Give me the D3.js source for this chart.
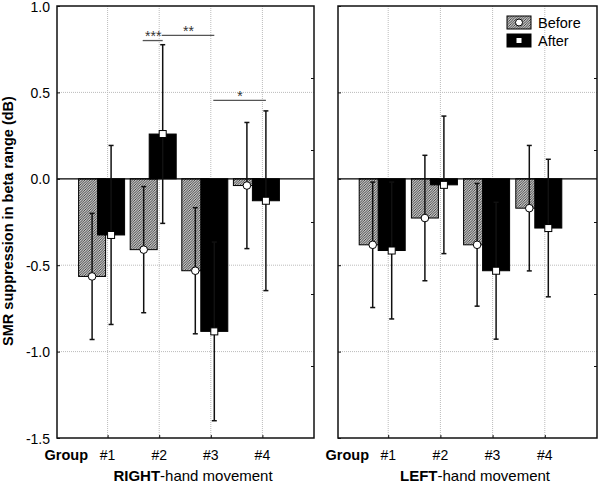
<!DOCTYPE html>
<html><head><meta charset="utf-8">
<script src="https://cdn.jsdelivr.net/npm/d3@7"></script>
<style>
body{margin:0;background:#fff;}
svg{display:block;font-family:"Liberation Sans",Arial,sans-serif;}
</style></head>
<body><svg id="c" width="600" height="483"></svg>
<script>
const categories = ["#1","#2","#3","#4"];
const seriesNames = ["Before","After"];
const rightBefore   = [-0.565, -0.410, -0.532, -0.039];
const rightBeforeSD = [0.365, 0.365, 0.365, 0.365];
const rightAfter    = [-0.325, 0.259, -0.883, -0.127];
const rightAfterSD  = [0.518, 0.517, 0.517, 0.520];
const leftBefore    = [-0.382, -0.227, -0.382, -0.170];
const leftBeforeSD  = [0.363, 0.363, 0.355, 0.363];
const leftAfter     = [-0.415, -0.035, -0.532, -0.285];
const leftAfterSD   = [0.396, 0.398, 0.396, 0.398];
const yTicks = [1.0, 0.5, 0.0, -0.5, -1.0, -1.5];
const panelTitles = [["RIGHT","-hand movement"],["LEFT","-hand movement"]];
const sigLabels = ["***","**","*"];
const sigFrom   = [["Before","#2"],["After","#2"],["After","#3"]];
const sigTo     = [["After","#2"],["After","#3"],["After","#4"]];
const sigLevel  = [0.80, 0.83, 0.454];

const svg = d3.select("#c");
const defs = svg.append("defs");
const pat = defs.append("pattern").attr("id","hatch").attr("patternUnits","userSpaceOnUse")
  .attr("width",2.5).attr("height",2.5);
pat.append("rect").attr("width",2.5).attr("height",2.5).attr("fill","#c4c4c4");
pat.append("path").attr("d","M-1,1 l2,-2 M0,2.5 l2.5,-2.5 M1.5,3.5 l2,-2").attr("stroke","#2a2a2a").attr("stroke-width",0.8);

const y = d3.scaleLinear().domain([-1.5,1]).range([438,6]);
const ySec = d3.scaleLinear().domain([0,6]).range([438,6]);
const panels = [
  {range:[56,314], spineX:57, before:rightBefore, bSD:rightBeforeSD, after:rightAfter, aSD:rightAfterSD, title:panelTitles[0], labels:true, sig:true},
  {range:[336,597], spineX:338, before:leftBefore, bSD:leftBeforeSD, after:leftAfter, aSD:leftAfterSD, title:panelTitles[1], labels:false, sig:false}
];
const barW = 27;
const offset = {Before:-15.5, After:3.5};

panels.forEach(p => {
  const x = d3.scaleLinear().domain([0,5]).range(p.range);
  const xl = p.spineX, xr = p.range[1];
  const g = svg.append("g");
  // grid
  g.selectAll(null).data(yTicks.filter(v=>v!==0 && v!==1 && v!==-1.5)).join("line")
    .attr("x1",xl).attr("x2",xr).attr("y1",d=>y(d)).attr("y2",d=>y(d))
    .attr("stroke","#bbb").attr("stroke-width",1).attr("stroke-dasharray","1,1");
  g.selectAll(null).data(categories).join("line")
    .attr("x1",(d,i)=>x(i+1)).attr("x2",(d,i)=>x(i+1)).attr("y1",y(1)).attr("y2",y(-1.5))
    .attr("stroke","#bbb").attr("stroke-width",1).attr("stroke-dasharray","1,1");

  const rows = [];
  categories.forEach((c,i)=>{ rows.push({s:"Before", i, v:p.before[i], sd:p.bSD[i]}); });
  categories.forEach((c,i)=>{ rows.push({s:"After", i, v:p.after[i], sd:p.aSD[i]}); });
  const cx = d => x(d.i+1) + offset[d.s];
  // bars
  g.selectAll(null).data(rows).join("rect")
    .attr("x",d=>cx(d)-barW/2).attr("width",barW)
    .attr("y",d=>Math.min(y(0),y(d.v))).attr("height",d=>Math.abs(y(d.v)-y(0)))
    .attr("fill",d=>d.s==="Before"?"url(#hatch)":"#000")
    .attr("stroke","#000").attr("stroke-width",1);
  // zero line
  g.append("line").attr("x1",xl).attr("x2",xr).attr("y1",y(0)).attr("y2",y(0))
    .attr("stroke","#000").attr("stroke-width",1.2);
  // error bars
  g.selectAll(null).data(rows).join("line")
    .attr("x1",cx).attr("x2",cx).attr("y1",d=>y(d.v+d.sd)).attr("y2",d=>y(d.v-d.sd))
    .attr("stroke","#111").attr("stroke-width",1.5);
  [1,-1].forEach(sg=>{
    g.selectAll(null).data(rows).join("line")
      .attr("x1",d=>cx(d)-2.5).attr("x2",d=>cx(d)+2.5)
      .attr("y1",d=>y(d.v+sg*d.sd)).attr("y2",d=>y(d.v+sg*d.sd))
      .attr("stroke","#111").attr("stroke-width",1.5);
  });
  // markers
  g.selectAll(null).data(rows.filter(d=>d.s==="Before")).join("circle")
    .attr("cx",cx).attr("cy",d=>y(d.v)).attr("r",3.8)
    .attr("fill","#fff").attr("stroke","#000").attr("stroke-width",1);
  g.selectAll(null).data(rows.filter(d=>d.s==="After")).join("rect")
    .attr("x",d=>cx(d)-3.5).attr("y",d=>y(d.v)-3.5).attr("width",7).attr("height",7)
    .attr("fill","#fff").attr("stroke","#000").attr("stroke-width",1);

  // frame
  g.append("rect").attr("x",xl).attr("y",y(1)).attr("width",xr-xl).attr("height",y(-1.5)-y(1))
    .attr("fill","none").attr("stroke","#111").attr("stroke-width",1.5);
  // left axis ticks (inward)
  const la = g.append("g").attr("transform",`translate(${xl},0)`)
    .call(d3.axisRight(y).tickValues(yTicks).tickSize(3).tickFormat(d3.format(".1f")));
  la.select(".domain").remove();
  la.selectAll("line").attr("stroke","#111");
  if (p.labels) {
    la.selectAll("text").attr("x",-7).attr("text-anchor","end").attr("font-size",14)
      .attr("dy","0.36em")
      .attr("font-family","Liberation Sans, Arial, sans-serif").attr("fill","#000")
      .text(d=>d3.format(".1f")(d).replace("−","-"));
    la.selectAll(".tick").filter(d=>d===1).select("text").attr("dy","0.42em");
  } else la.selectAll("text").remove();
  // right secondary ticks
  const ra = g.append("g").attr("transform",`translate(${xr},0)`)
    .call(d3.axisLeft(ySec).tickValues([1,2,3,4,5]).tickSize(3).tickFormat(""));
  ra.select(".domain").remove();
  ra.selectAll("line").attr("stroke","#111");
  // bottom
  const ba = g.append("g").attr("transform",`translate(0,${y(-1.5)})`)
    .call(d3.axisTop(x).tickValues([1,2,3,4]).tickSize(3).tickFormat(""));
  ba.select(".domain").remove();
  ba.selectAll("line").attr("stroke","#111");
  g.selectAll(null).data(categories).join("text")
    .attr("x",(d,i)=>x(i+1)).attr("y",460).attr("text-anchor","middle")
    .attr("font-size",14).text(d=>d);
  g.append("text").attr("x",xl+31).attr("y",460).attr("text-anchor","end")
    .attr("font-size",14.5).attr("font-weight","bold").text("Group");
  const t = g.append("text").attr("x",(xl+xr)/2+7.5).attr("y",481).attr("text-anchor","middle")
    .attr("font-size",15);
  t.append("tspan").attr("font-weight","bold").text(p.title[0]);
  t.append("tspan").text(p.title[1]);

  if (p.sig) {
    const pos = (a) => x(categories.indexOf(a[1])+1) + offset[a[0]];
    sigLabels.forEach((lab,k)=>{
      const x1 = pos(sigFrom[k]), x2 = pos(sigTo[k]), yy = y(sigLevel[k]);
      g.append("line").attr("x1",x1-1).attr("x2",x2).attr("y1",yy).attr("y2",yy)
        .attr("stroke","#555").attr("stroke-width",1.3);
      g.append("text").attr("x",(x1+x2)/2).attr("y",yy+0.5).attr("text-anchor","middle")
        .attr("font-size",14).attr("fill","#333").text(lab);
    });
  }
});

// y title
svg.append("text").attr("transform","translate(13,221) rotate(-90)").attr("text-anchor","middle")
  .attr("font-size",14.5).attr("font-weight","bold").text("SMR suppression in beta range (dB)");

// legend
const lg = svg.append("g");
seriesNames.forEach((s,k)=>{
  const yy = 16 + k*18;
  lg.append("rect").attr("x",507).attr("y",yy).attr("width",24).attr("height",13)
    .attr("fill",s==="Before"?"url(#hatch)":"#000").attr("stroke","#000").attr("stroke-width",1);
  if (s==="Before") lg.append("circle").attr("cx",519).attr("cy",yy+6.5).attr("r",3.5)
    .attr("fill","#fff").attr("stroke","#000");
  else lg.append("rect").attr("x",516).attr("y",yy+3.5).attr("width",6).attr("height",6)
    .attr("fill","#fff").attr("stroke","#000");
  lg.append("text").attr("x",538).attr("y",yy+11.5).attr("font-size",14.5).text(s);
});
</script></body></html>
